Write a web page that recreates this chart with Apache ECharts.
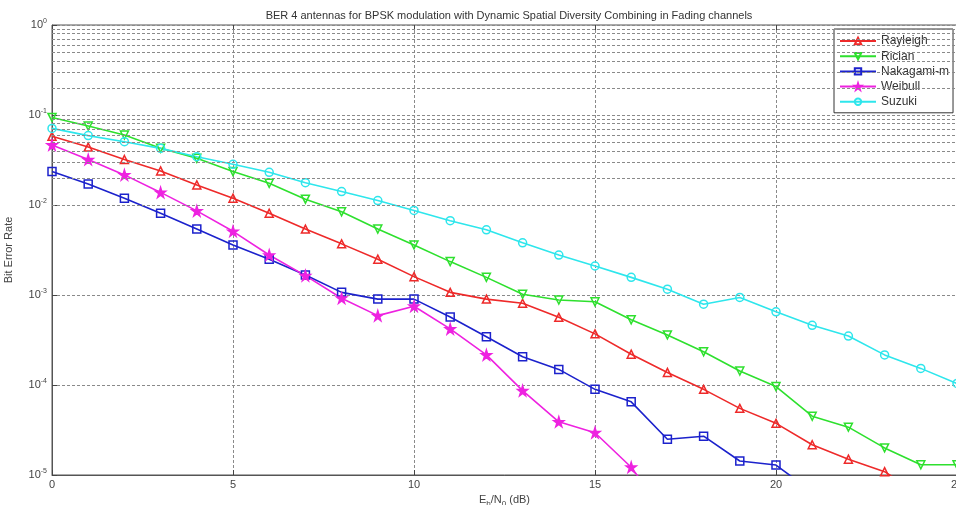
<!DOCTYPE html>
<html>
<head>
<meta charset="utf-8">
<script src="https://cdn.jsdelivr.net/npm/echarts@6/dist/echarts.min.js"></script>
<style>
html,body{margin:0;padding:0;background:#fff;}
#chart{width:956px;height:505px;}
</style>
</head>
<body>
<div id="chart"></div>
<script>
var xValues = [0,1,2,3,4,5,6,7,8,9,10,11,12,13,14,15,16,17,18,19,20,21,22,23,24,25];
var rayleigh = [0.058,0.044,0.032,0.0239,0.0167,0.0119,0.0081,0.0054,0.0037,0.0025,0.0016,0.00107,0.00090,0.00081,0.000565,0.00037,0.00022,0.000138,0.0000895,0.000055,0.0000375,0.0000217,0.000015,0.0000109,0.000006];
var rician = [0.094,0.0755,0.060,0.0426,0.033,0.0235,0.0174,0.0116,0.0084,0.0054,0.0036,0.00235,0.00157,0.00102,0.00088,0.00084,0.00053,0.00036,0.000234,0.000143,0.000096,0.000045,0.000034,0.000020,0.000013,0.000013];
var nakagami = [0.0235,0.0171,0.0119,0.0081,0.0054,0.0036,0.0025,0.00167,0.00107,0.00090,0.00090,0.00057,0.000344,0.000206,0.000149,0.0000895,0.000065,0.000025,0.000027,0.0000143,0.0000129,0.0000065];
var weibull = [0.0464,0.032,0.0216,0.0138,0.0086,0.0051,0.00278,0.00164,0.00092,0.00059,0.00075,0.00042,0.000216,0.0000865,0.000039,0.0000295,0.0000122,0.0000035];
var suzuki = [0.071,0.059,0.0505,0.0426,0.0344,0.0283,0.0231,0.0177,0.0141,0.0112,0.0087,0.0067,0.0053,0.0038,0.00278,0.0021,0.00157,0.00116,0.00079,0.00094,0.00065,0.00046,0.00035,0.000216,0.000153,0.000104];
var seriesNames = ['Rayleigh','Rician','Nakagami-m','Weibull','Suzuki'];
var minorGridValues = [];
[-5,-4,-3,-2,-1].forEach(function(e){ for (var m=2;m<=9;m++) minorGridValues.push(m*Math.pow(10,e)); });

var colors = ['#ee2a2a','#2ee02e','#1c22cc','#ee22e0','#2ee6ec'];
var starPath = 'path://M50,0 L61,35 L98,35 L68,57 L79,91 L50,70 L21,91 L32,57 L2,35 L39,35 Z';
var symbols = ['triangle','triangle','rect',starPath,'circle'];
var rotates = [0,180,0,0,0];
var allData = [rayleigh,rician,nakagami,weibull,suzuki];

function pairs(arr){ return arr.map(function(v,i){ return [xValues[i], v]; }); }

var gridStyle = {color:'#8a8a8a', width:1, type:[3,2]};
var series = [{
  name:'grid', type:'line', data:[], silent:true, z:1,
  markLine:{silent:true, symbol:['none','none'], label:{show:false},
    lineStyle:gridStyle, animation:false,
    data: minorGridValues.map(function(v){ return {yAxis:v}; })}
}];
allData.forEach(function(arr, i){
  series.push({
    name: seriesNames[i], type:'line', data: pairs(arr), z:3,
    color: colors[i],
    symbol: symbols[i], symbolRotate: rotates[i],
    symbolSize: i===3 ? 10 : 8,
    showAllSymbol:true, clip:true,
    lineStyle:{color:colors[i], width:1.6},
    itemStyle:{color: i===3 ? colors[i] : 'rgba(255,255,255,0)', borderColor:colors[i], borderWidth:1.5},
    animation:false
  });
});

var chart = echarts.init(document.getElementById('chart'), null, {renderer:'canvas'});
chart.setOption({
  backgroundColor:'#fff',
  animation:false,
  title:{text:'BER 4 antennas for BPSK modulation with Dynamic Spatial Diversity Combining in Fading channels',
    left:504, textAlign:'center', top:5,
    textStyle:{fontFamily:'Liberation Sans, Arial', fontSize:11, fontWeight:'normal', color:'#333'}},
  legend:{
    data: seriesNames, orient:'vertical', left:834, top:29,
    padding:[6,4,5,5], itemGap:3.2, itemWidth:36, itemHeight:8,
    backgroundColor:'#fff', borderColor:'#333', borderWidth:1, borderRadius:0,
    textStyle:{fontFamily:'Liberation Sans, Arial', fontSize:12, color:'#333', padding:[0,0,0,0]}
  },
  grid:{left:52, top:25, width:905, height:450, show:true, borderColor:'#555', borderWidth:1, backgroundColor:'transparent', containLabel:false, outerBoundsMode:'none'},
  xAxis:[{
    type:'value', min:0, max:25, interval:5,
    name:'{n|E}{s|b}{n|/N}{s|0}{n| (dB)}', nameLocation:'middle', nameGap:18,
    nameTextStyle:{rich:{n:{fontFamily:'Liberation Sans, Arial', fontSize:11, color:'#444'}, s:{fontFamily:'Liberation Sans, Arial', fontSize:8, color:'#444', verticalAlign:'bottom', padding:[6,0,0,0]}}},
    axisLine:{show:true, lineStyle:{color:'#555'}},
    axisTick:{inside:true, length:5, lineStyle:{color:'#444'}},
    axisLabel:{fontFamily:'Liberation Sans, Arial', fontSize:11, color:'#444', margin:4},
    splitLine:{show:true, lineStyle:gridStyle}
  },{
    type:'value', min:0, max:25, interval:5, position:'top',
    axisLine:{show:false}, axisTick:{inside:true, length:5, lineStyle:{color:'#444'}},
    axisLabel:{show:false}, splitLine:{show:false}
  }],
  yAxis:{
    type:'log', logBase:10, min:1e-5, max:1,
    name:'Bit Error Rate', nameLocation:'middle', nameGap:38, nameRotate:90,
    nameTextStyle:{fontFamily:'Liberation Sans, Arial', fontSize:11, color:'#444'},
    axisLine:{show:true, lineStyle:{color:'#555'}},
    axisTick:{inside:true, length:5, lineStyle:{color:'#444'}},
    minorTick:{show:false},
    axisLabel:{margin:5, formatter:function(v){ var e=Math.round(Math.log10(v)); return '{b|10}{s|'+e+'}'; },
      rich:{b:{fontFamily:'Liberation Sans, Arial', fontSize:11, color:'#444'}, s:{fontFamily:'Liberation Sans, Arial', fontSize:7, color:'#444', verticalAlign:'top', padding:[0,0,7,0]}}},
    splitLine:{show:true, lineStyle:gridStyle}
  },
  series: series
});
</script>
</body>
</html>
